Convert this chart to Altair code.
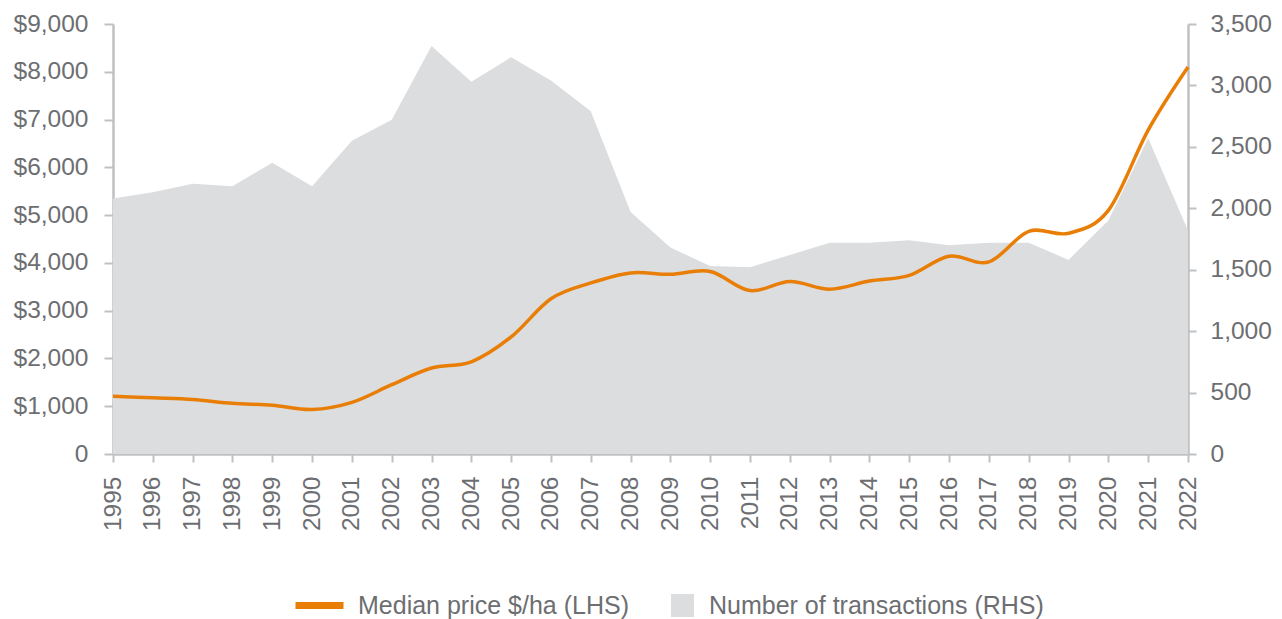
import altair as alt
import pandas as pd

years = list(range(1995, 2023))
median_price = [1210, 1175, 1140, 1060, 1020, 930, 1080, 1450, 1800, 1930,
                2450, 3250, 3580, 3790, 3760, 3820, 3420, 3610, 3450, 3620,
                3740, 4140, 4020, 4660, 4620, 5100, 6780, 8100]
transactions = [2080, 2130, 2200, 2180, 2370, 2180, 2550, 2720, 3320, 3030,
                 3230, 3040, 2790, 1970, 1680, 1530, 1520, 1620, 1720, 1720,
                 1740, 1700, 1720, 1720, 1580, 1900, 2570, 1820]
left_ticks = list(range(0, 9001, 1000))
right_ticks = list(range(0, 3501, 500))
line_name = "Median price $/ha (LHS)"
area_name = "Number of transactions (RHS)"

df = pd.DataFrame({
    "year": years,
    "price": median_price,
    "tx": transactions,
    "s_line": [line_name] * len(years),
    "s_area": [area_name] * len(years),
})

FONT = "Liberation Sans"
TXT = "#6D6E71"
AX = "#BFC0C2"
ORANGE = "#E97E07"
GREY = "#DCDDDF"
AXFS = 24.5
LGFS = 25

x_enc = alt.X(
    "year:O",
    scale=alt.Scale(type="point", padding=0),
    axis=alt.Axis(
        title=None, labelAngle=270, labelFontSize=AXFS, labelColor=TXT, labelFont=FONT,
        domainColor=AX, domainWidth=2.5, tickColor=AX, tickWidth=2, tickSize=8,
        labelPadding=14, labelOverlap=False, grid=False,
    ),
)

area = alt.Chart(df).mark_area(interpolate="linear").encode(
    x=x_enc,
    y=alt.Y(
        "tx:Q",
        scale=alt.Scale(domain=[0, 3500], nice=False),
        axis=alt.Axis(
            orient="right", title=None, values=right_ticks, format=",.0f",
            labelFontSize=AXFS, labelColor=TXT, labelFont=FONT,
            domainColor=AX, domainWidth=2.5, tickColor=AX, tickWidth=2, tickSize=8,
            labelPadding=14, grid=False,
        ),
    ),
    fill=alt.Fill(
        "s_area:N",
        scale=alt.Scale(domain=[area_name], range=[GREY]),
        legend=alt.Legend(
            orient="none", legendX=557, legendY=569, title=None, padding=0,
            symbolType="square", symbolSize=529, symbolStrokeWidth=0,
            labelFontSize=LGFS, labelColor=TXT, labelFont=FONT, labelOffset=14,
            labelLimit=600,
        ),
    ),
)

line = alt.Chart(df).mark_line(interpolate="cardinal", strokeWidth=3.5).encode(
    x=x_enc,
    y=alt.Y(
        "price:Q",
        scale=alt.Scale(domain=[0, 9000], nice=False),
        axis=alt.Axis(
            orient="left", title=None, values=left_ticks,
            labelExpr="datum.value == 0 ? '0' : '$' + format(datum.value, ',')",
            labelFontSize=AXFS, labelColor=TXT, labelFont=FONT,
            domainColor=AX, domainWidth=2.5, tickColor=AX, tickWidth=2, tickSize=9,
            labelPadding=16, grid=False,
        ),
    ),
    stroke=alt.Stroke(
        "s_line:N",
        scale=alt.Scale(domain=[line_name], range=[ORANGE]),
        legend=alt.Legend(
            orient="none", legendX=179, legendY=554, title=None, padding=0,
            symbolType="stroke", symbolSize=2304, symbolStrokeWidth=7,
            labelFontSize=LGFS, labelColor=TXT, labelFont=FONT, labelOffset=11,
            labelLimit=600,
        ),
    ),
)

chart = alt.layer(area, line).resolve_scale(y="independent").properties(
    width=1075,
    height=430,
    autosize=alt.AutoSizeParams(type="none"),
    padding={"left": 105, "top": 16, "right": 86, "bottom": 165},
).configure_view(strokeWidth=0)

chart.save("out.html", embed_options={"renderer": "svg", "actions": False})
